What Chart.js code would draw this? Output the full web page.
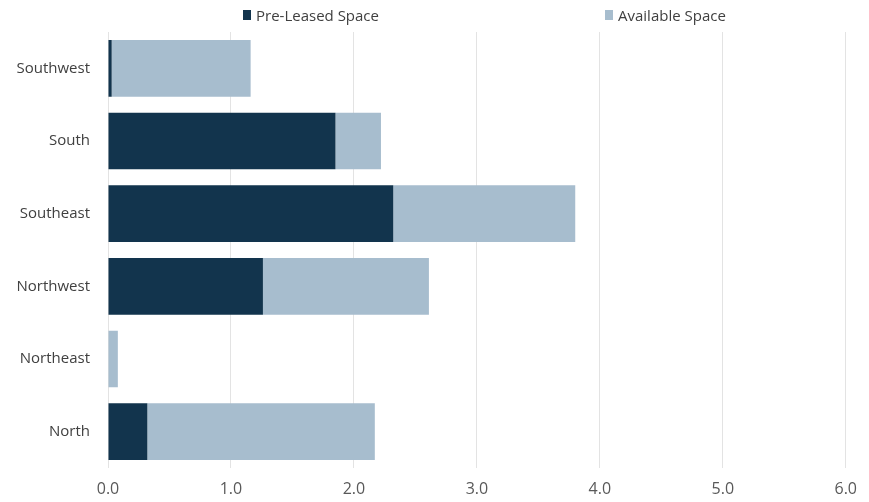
<!DOCTYPE html>
<html>
<head>
<meta charset="utf-8">
<script src="https://cdn.jsdelivr.net/npm/chart.js@4"></script>
<style>
  body { margin: 0; background: #fff; }
  #wrap { position: relative; width: 869px; height: 502px; }
  .legend { position: absolute; top: 5px; font-family: "Open Sans", sans-serif; font-size: 15px; color: #404040; display: flex; align-items: center; }
  .legend span.box { display: inline-block; width: 8px; height: 10px; margin-right: 5px; }
</style>
</head>
<body>
<div id="wrap">
  <canvas id="myChart" width="869" height="502"></canvas>
  <div class="legend" style="left:243px"><span class="box" style="background:#12344d"></span>Pre-Leased Space</div>
  <div class="legend" style="left:605px"><span class="box" style="background:#a7bdce"></span>Available Space</div>
</div>
<script>
let regions = ['Southwest', 'South', 'Southeast', 'Northwest', 'Northeast', 'North'];
let preLeased = [0.03, 1.85, 2.32, 1.26, 0, 0.32];
let available = [1.13, 0.37, 1.48, 1.35, 0.08, 1.85];
let xTicks = [0, 1, 2, 3, 4, 5, 6];

let fontFamily = '"Open Sans", sans-serif';

new Chart('myChart', {
  type: 'bar',
  data: {
    labels: regions,
    datasets: [
      { label: 'Pre-Leased Space', data: preLeased, backgroundColor: '#12344d' },
      { label: 'Available Space', data: available, backgroundColor: '#a7bdce' }
    ]
  },
  options: {
    indexAxis: 'y',
    responsive: false,
    animation: false,
    layout: { padding: { top: 32, right: 23, left: 0, bottom: 0 } },
    datasets: { bar: { categoryPercentage: 0.78, barPercentage: 1 } },
    plugins: { legend: { display: false }, tooltip: { enabled: false } },
    scales: {
      x: {
        stacked: true,
        min: 0,
        max: 6,
        afterBuildTicks: axis => { axis.ticks = xTicks.map(v => ({ value: v })); },
        afterFit: axis => { axis.height = 34; },
        grid: { color: '#e3e3e3', drawTicks: false },
        border: { display: false },
        ticks: {
          padding: 12,
          color: '#595959',
          font: { family: fontFamily, size: 16 },
          callback: v => v.toFixed(1)
        }
      },
      y: {
        stacked: true,
        afterFit: axis => { axis.width = 108; },
        grid: { display: false, drawTicks: false },
        border: { display: false },
        ticks: {
          padding: 18,
          color: '#404040',
          font: { family: fontFamily, size: 15 }
        }
      }
    }
  }
});
</script>
</body>
</html>
